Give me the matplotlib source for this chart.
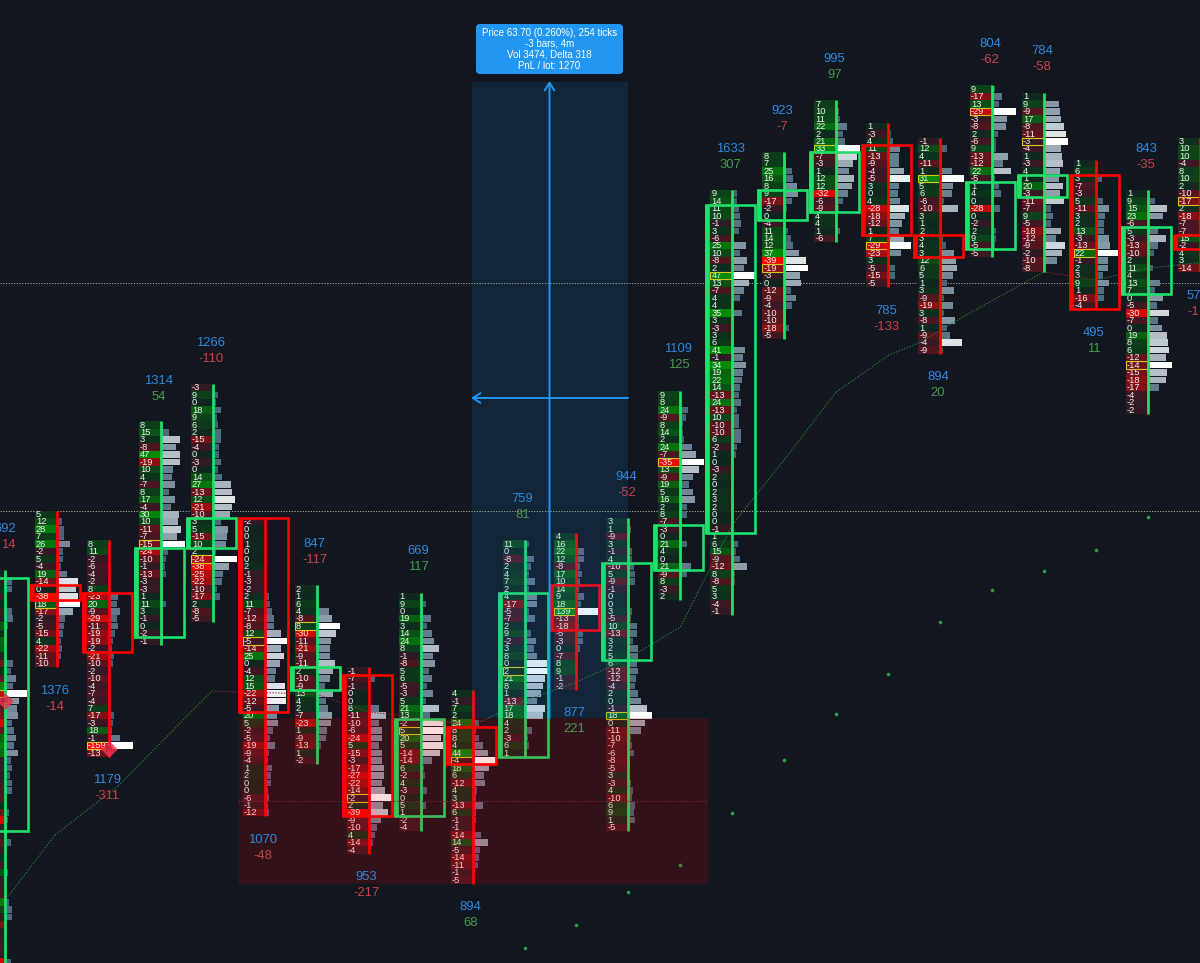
import matplotlib
matplotlib.use('Agg')
import matplotlib.pyplot as plt
from matplotlib.colors import to_rgb
from matplotlib.patches import Rectangle, FancyBboxPatch
from matplotlib.transforms import IdentityTransform

plt.rcParams['font.family'] = ['Liberation Sans', 'DejaVu Sans']

# one entry per bar: first price row, footprint deltas, volume profile
first_row = [8, 0, 4, -12, -17, 1, 10, 21, 11, 24, 4, 3, 1, -16, -43, -48, -55, -52, -50, -57, -56, -47, -43, -50]

deltas = [
    [0, -1, 2, -6, 1, -5, -3, 16, 3, 20, 18, -2, -14, 3, -12, 30, -28, -6, -12, -16, -30, -14, 20, 28, 22, -3, -5, -2, -6, -8, -9, 3, -14, -30, -5, -4, -10, -5, 3, -6, 14, -4, -5, -6, 26, 10, -3, -16, -3, -4, -6, -4, -30, -6],
    [5, 12, 28, 7, 26, -2, 5, -4, 19, -14, 0, -38, 18, -17, -2, -5, -15, 4, -22, -11, -10],
    [8, 11, -2, -6, -4, -2, 8, -23, 20, -9, -29, -11, -19, -19, -2, -21, -10, -2, -10, -4, -7, -4, 7, -17, -3, 18, -1, -159, -13],
    [8, 15, 3, -8, 47, -19, 10, 4, -7, 8, 17, -4, 30, 10, -11, -7, -15, -24, -10, -1, -13, -3, -3, 1, 11, 3, -1, 0, -2, -1],
    [-3, 9, 0, 18, 9, 6, 2, -15, -4, 0, -3, 0, 14, 27, -13, 12, -21, -10, 3, 5, -15, 10, 2, -24, -38, -25, -22, -10, -17, 2, -8, -5],
    [-2, 0, 0, 1, 0, 0, 2, -1, -3, -2, 2, 11, -7, -12, -8, 12, -5, -14, 25, 0, -4, 12, 15, -22, -12, -5, 20, 5, -2, -5, -19, -9, -4, 1, 2, 0, 0, -6, -1, -12],
    [2, 1, 6, 4, -8, 8, -30, -11, -21, -9, -11, 2, -10, -9, 13, 4, 2, -7, -23, 1, -9, -13, 1, -2],
    [-1, -7, -1, 0, 0, 8, -11, -10, -6, -24, 5, -15, -3, -17, -27, -22, -14, -2, 2, -39, -9, -10, 4, -14, -4],
    [1, 9, 0, 19, 3, 14, 24, 8, -1, -8, 5, 6, -5, -3, 5, 21, 13, -2, 5, 20, 5, -14, -14, 6, -2, 4, -3, 0, 5, 1, -2, -4],
    [4, -1, 7, 2, 24, 8, 8, 4, 44, -4, 18, 6, -12, 4, 3, -13, 6, -1, -1, -14, 14, -5, -14, -11, -1, -5],
    [11, 0, -8, 2, 4, 7, 2, 4, -17, -5, -7, 2, 9, -2, 3, 8, 0, 2, 21, 8, 1, -13, 17, 18, 4, 2, -3, 6, 1],
    [4, 16, 22, 12, -8, 17, 10, 14, 9, 18, 139, -13, -18, -5, -3, 0, -7, 8, 9, -1, -2],
    [3, 1, -9, 3, -1, 4, -10, 5, -9, -1, 0, 0, 3, -5, 10, -13, 3, 2, 5, 6, -12, -12, -4, 2, 0, -1, 18, 0, -11, -10, -7, -6, -8, -5, 3, -3, 4, -10, 6, 9, 1, -5],
    [9, 8, 24, -9, 8, 14, 2, 24, -7, -35, 13, -9, 19, 5, 16, 2, 8, -7, -3, 0, 21, 4, 0, 21, -9, 8, -3, 2],
    [9, 14, 11, 10, -1, 3, -6, 25, 10, -8, 2, 47, 13, -7, 4, 4, 35, 3, -3, 3, 6, 41, -1, 34, 19, 22, 14, -13, 24, -13, 10, -10, -10, 6, -2, 1, 0, -3, 2, 0, 2, 3, 2, 0, 0, -1, 1, 6, 15, -9, -12, 8, -8, 5, 3, -4, -1],
    [8, 7, 25, 16, 8, 9, -17, -2, 0, -4, 11, 14, 12, 37, -39, -19, -3, 0, -12, -9, -4, -10, -10, -18, -5],
    [7, 10, 11, 22, 2, 21, 33, -7, -3, 1, 12, 12, -32, -6, -9, 4, 4, 1, -6],
    [1, -3, 4, 11, -13, -9, -4, -5, 3, 0, 4, -28, -18, -12, 1, 7, -29, -23, 3, -5, -15, -5],
    [-1, 12, 4, -11, 1, 31, 5, 6, -6, -10, 3, 1, 2, 3, 4, 3, 12, 6, 5, 1, 3, -9, -19, 3, -8, 1, -9, -4, -9],
    [9, -17, 13, -29, -3, -8, 2, -6, 9, -13, -12, 22, -5, 1, 4, 0, -28, 0, -2, 2, 9, -5, -5],
    [1, 9, -9, 17, -8, -11, -3, -4, 1, -3, 4, 1, 20, -3, -11, -7, 9, -5, -18, -12, -9, -2, -10, -8],
    [1, 6, 3, -7, -3, 5, -11, 3, 2, 13, -3, -13, 22, -1, 2, 3, 9, 1, -16, -4],
    [1, 9, 15, 23, -6, 5, -3, -13, -10, 2, 11, 4, 13, 7, 0, -5, -30, -7, 0, 19, 8, 6, -12, -14, -15, -18, -17, -4, -2, -2],
    [3, 10, 10, -4, 8, 10, 2, -10, -17, 2, -18, -7, -7, 15, -2, 4, 3, -14],
]

volumes = [
    [0, 6, 6, 0, 1, 6, 7, 2, 0, 1, 0, 1, 7, 5, 10, 7, 21, 13, 11, 12, 6, 8, 10, 8, 12, 5, 6, 4, 6, 6, 0, 0, 3, 2, 1, 1, 5, 1, 0, 1, 2, 0, 0, 0, 3, 6, 6, 0, 0, 0, 1, 0, 5, 0],
    [0, 4, 6, 6, 12, 5, 5, 3, 9, 20, 18, 20, 22, 15, 7, 6, 5, 3, 4, 3, 1],
    [0, 0, 0, 0, 0, 0, 1, 8, 7, 10, 7, 8, 5, 3, 2, 4, 3, 1, 1, 1, 1, 1, 1, 4, 3, 2, 10, 23, 0],
    [0, 7, 18, 14, 18, 18, 11, 10, 13, 7, 13, 9, 17, 16, 19, 15, 23, 6, 4, 3, 4, 1, 1, 1, 4, 1, 1, 1, 1, 0],
    [0, 4, 2, 7, 3, 4, 7, 7, 5, 5, 7, 4, 8, 17, 18, 21, 18, 16, 7, 14, 13, 12, 2, 23, 15, 9, 8, 3, 6, 0, 0, 0],
    [0, 0, 0, 0, 0, 0, 0, 0, 0, 0, 3, 4, 6, 8, 8, 15, 21, 15, 18, 14, 10, 9, 19, 20, 20, 13, 11, 12, 7, 4, 9, 3, 2, 6, 5, 5, 2, 3, 2, 3],
    [0, 0, 1, 11, 14, 22, 18, 13, 12, 12, 17, 15, 12, 7, 15, 8, 10, 14, 13, 9, 8, 3, 0, 0],
    [0, 5, 1, 0, 0, 9, 16, 9, 12, 12, 9, 12, 12, 14, 14, 12, 15, 22, 13, 18, 11, 7, 5, 3, 0],
    [0, 4, 1, 9, 5, 10, 12, 17, 11, 13, 7, 10, 5, 11, 4, 17, 8, 21, 22, 19, 21, 18, 10, 2, 3, 1, 5, 1, 4, 1, 0, 0],
    [0, 0, 0, 0, 5, 2, 5, 9, 14, 22, 15, 10, 11, 3, 2, 9, 2, 2, 1, 7, 14, 6, 5, 4, 1, 0],
    [3, 1, 8, 5, 3, 9, 3, 11, 11, 3, 9, 1, 5, 10, 8, 11, 21, 22, 19, 17, 15, 11, 19, 17, 1, 6, 2, 3, 0],
    [0, 1, 7, 7, 3, 5, 3, 2, 7, 4, 21, 2, 2, 6, 6, 3, 1, 0, 0, 0, 0],
    [0, 2, 1, 0, 3, 3, 5, 6, 6, 1, 1, 1, 3, 2, 8, 8, 4, 9, 9, 8, 9, 7, 6, 9, 12, 18, 23, 16, 12, 2, 3, 5, 1, 1, 0, 2, 4, 3, 6, 5, 6, 1],
    [0, 0, 7, 5, 2, 2, 3, 11, 15, 23, 18, 12, 8, 12, 14, 6, 6, 1, 1, 0, 6, 1, 0, 10, 6, 0, 0, 0],
    [4, 4, 6, 7, 8, 6, 1, 13, 7, 14, 11, 22, 16, 11, 7, 0, 9, 1, 1, 1, 1, 12, 10, 13, 10, 9, 7, 6, 8, 4, 6, 6, 8, 8, 4, 3, 1, 1, 1, 0, 0, 1, 1, 0, 0, 0, 0, 5, 3, 7, 14, 2, 2, 0, 0, 0, 0],
    [0, 1, 7, 8, 12, 13, 7, 2, 1, 0, 3, 6, 8, 14, 21, 23, 15, 16, 6, 11, 7, 1, 1, 4, 0],
    [0, 2, 3, 10, 6, 8, 23, 20, 16, 12, 17, 15, 11, 6, 2, 0, 0, 3, 0],
    [0, 2, 4, 11, 10, 10, 15, 21, 10, 9, 11, 20, 16, 13, 10, 15, 22, 12, 1, 6, 6, 0],
    [0, 6, 1, 1, 11, 23, 12, 11, 3, 17, 1, 1, 1, 2, 5, 13, 15, 16, 12, 6, 13, 3, 12, 3, 14, 6, 9, 21, 2],
    [2, 9, 6, 23, 14, 13, 5, 3, 3, 15, 10, 18, 2, 6, 8, 0, 7, 1, 1, 3, 3, 2, 0],
    [0, 14, 15, 16, 19, 21, 23, 16, 17, 18, 15, 14, 18, 15, 19, 6, 8, 6, 16, 11, 20, 17, 12, 0],
    [0, 0, 5, 0, 0, 6, 12, 8, 7, 7, 12, 13, 21, 11, 11, 6, 12, 7, 7, 0],
    [0, 6, 18, 14, 0, 9, 17, 9, 5, 1, 4, 1, 11, 6, 14, 8, 20, 9, 13, 18, 19, 20, 17, 23, 18, 17, 10, 0, 0, 0],
    [4, 6, 8, 3, 5, 7, 2, 9, 22, 3, 12, 5, 4, 10, 4, 3, 2, 6],
]

poc_index = [16, 12, 27, 16, 23, 16, 5, 17, 18, 9, 17, 10, 26, 9, 11, 15, 6, 16, 5, 3, 6, 12, 23, 8]

# candle body as row indexes inside each bar, and its direction
body_top = [1, 10, 7, 17, 18, 0, 11, 1, 17, 5, 7, 7, 6, 18, 2, 5, 7, 3, 13, 13, 11, 2, 5, 13]
body_bottom = [34, 11, 14, 28, 21, 25, 13, 19, 29, 9, 28, 12, 18, 23, 45, 8, 14, 14, 15, 21, 13, 19, 13, 14]
bar_up = [True, False, False, True, True, False, True, False, True, False, True, False,
          True, True, True, True, True, False, False, True, True, False, True, False]

# the first and last bar are cut by the chart edge, only these digits show
label_volume = ['692', '1376', '1179', '1314', '1266', '1070', '847', '953', '669', '894', '759', '877',
                '944', '1109', '1633', '923', '995', '785', '894', '804', '784', '495', '843', '57']
label_delta = ['14', '-14', '-311', '54', '-110', '-48', '-117', '-217', '117', '68', '81', '221',
               '-52', '125', '307', '-7', '97', '-133', '20', '-62', '-58', '11', '-35', '-1']
label_row = [2.0, 23.7, 35.6, -17.9, -23.0, 43.7, 4.0, 48.6, 4.9, 52.6, -2.1, 26.6,
             -5.0, -22.2, -49.0, -54.1, -61.0, -27.3, -18.4, -63.0, -62.1, -24.3, -49.0, -29.3]

trend_bar = [-0.10, 0.13, 0.96, 2.18, 3.98, 6, 7, 8, 9, 10, 11, 12, 13, 14, 15, 16, 16.6, 17, 17.6, 18.5, 20, 21, 22, 23.1]
trend_row = [52.4, 50.6, 43.0, 36.4, 23.7, 24.1, 26.5, 27.3, 28.3, 25.0, 22.5, 19.3, 15.1, 1.4, -7.3, -16.4,
             -19.3, -21.3, -23.0, -26.7, -32.5, -31.4, -33.0, -33.8]

dot_bar = [10, 11, 12, 13, 14, 15, 16, 17, 18, 19, 20, 21, 22]
dot_row = [58.1, 55.0, 50.6, 47.0, 40.0, 33.0, 26.8, 21.4, 14.5, 10.2, 7.6, 4.8, 0.4]

diamond_bar = [0, 2]
diamond_row = [25.0, 31.4]
diamond_text = ['102', '104']

level_rows = [-31.0, -0.45]
level_colors = ['#bfa48c', '#b5ad8c']

tooltip_lines = ['Price 63.70 (0.260%), 254 ticks', '-3 bars, 4m', 'Vol 3474, Delta 318', 'PnL / lot: 1270']

BG = '#12161f'
UP = '#1ee06a'
DOWN = '#ff0000'
BAR_PX = 51.95
ROW_PX = 7.46


def mix(a, b, t):
    a, b = to_rgb(a), to_rgb(b)
    return tuple(x + (y - x) * t for x, y in zip(a, b))


def cell_color(v):
    if v >= 0:
        return mix('#10261f', '#008a08', min(v / 32, 1))
    return mix('#2c1a26', '#ff0000', min(-v / 36, 1) ** 1.2)


def vol_color(v, top):
    return mix('#3d5a70', '#ffffff', (v / top) ** 2)


def bx(px):
    return (px - 5) / BAR_PX


def ry(px):
    return (px - 514.3) / ROW_PX


fig = plt.figure(figsize=(12, 9.63), dpi=100, facecolor=BG)
ax = fig.add_axes([0, 0, 1, 1], facecolor=BG)
ax.set_xlim(bx(0), bx(1200))
ax.set_ylim(ry(963), ry(0))
ax.axis('off')

for r, c in zip(level_rows, level_colors):
    ax.axhline(r, color=c, lw=0.7, dashes=(1.2, 1.6), zorder=1)

for i, start in enumerate(first_row):
    vals, vols = deltas[i], volumes[i]
    assert len(vals) == len(vols), i
    col = UP if bar_up[i] else DOWN
    top = max(vols)
    for k, (v, vol) in enumerate(zip(vals, vols)):
        r = start + k
        ax.add_patch(Rectangle((i - 22 / BAR_PX, r - 0.5), 22 / BAR_PX, 1, fc=cell_color(v), ec='none', zorder=2))
        if vol > 0:
            ax.add_patch(Rectangle((i + 1 / BAR_PX, r - 0.44), vol / BAR_PX, 0.88, fc=vol_color(vol, top),
                                   ec='none', zorder=2))
        # bar 0 sits past the left edge, its numbers are not on the chart
        if i > 0:
            ax.text(i - 21 / BAR_PX, r + 0.03, str(v), color='#f2f2f2', fontsize=6.7, ha='left', va='center', zorder=3)
    p = start + poc_index[i]
    ax.add_patch(Rectangle((i - 22 / BAR_PX, p - 0.5), 22 / BAR_PX, 1, fc='none', ec='#d8c81e', lw=0.8, zorder=4))
    ax.plot([i, i], [start - 0.5, start + len(vals) - 0.5], color=col, lw=2, solid_capstyle='butt', zorder=5)
    # body box, the left edge is drawn heavier
    t, b = start + body_top[i] - 0.5, start + body_bottom[i] + 0.5
    ax.add_patch(Rectangle((i - 26 / BAR_PX, t), 49 / BAR_PX, b - t, fc='none', ec=col, lw=1.9, zorder=5))
    ax.plot([i - 25 / BAR_PX] * 2, [t, b], color=col, lw=3.4, solid_capstyle='butt', zorder=5)

# vwap style dotted line, green going up and red going down
for n in range(len(trend_bar) - 1):
    c = '#2f7d3f' if trend_row[n + 1] < trend_row[n] else '#8a2a2e'
    ax.plot(trend_bar[n:n + 2], trend_row[n:n + 2], color=c, lw=0.8, dashes=(1.2, 1.4), zorder=4)

ax.scatter(dot_bar, dot_row, s=7, color='#2f9a4f', linewidths=0, zorder=4)

ax.scatter(diamond_bar, diamond_row, s=70, marker='D', color='#f0304f', alpha=0.85, linewidths=0, zorder=6)
for x, y, s in zip(diamond_bar, diamond_row, diamond_text):
    ax.text(x, y, s, color='#8a1a30', fontsize=3.4, ha='center', va='center', zorder=7)

# price range tool
ax.add_patch(Rectangle((bx(472), ry(82)), bx(628) - bx(472), ry(718) - ry(82), fc='#2196f3', alpha=0.12, ec='none', zorder=6))
ax.add_patch(Rectangle((bx(238), ry(718)), bx(707) - bx(238), ry(883) - ry(718), fc='#ff0000', alpha=0.14,
                       ec='#5a1a1e', lw=0.8, zorder=6))
ax.plot([bx(238), bx(707)], [ry(801)] * 2, color='#7a2a30', lw=0.8, dashes=(1.2, 1.6), zorder=6)
ax.annotate('', xy=(bx(549.5), ry(81)), xytext=(bx(549.5), ry(718)), zorder=7,
            arrowprops=dict(arrowstyle='->,head_length=0.55,head_width=0.35', color='#2196f3', lw=1.4, shrinkA=0, shrinkB=0))
ax.annotate('', xy=(bx(471), ry(398)), xytext=(bx(628), ry(398)), zorder=7,
            arrowprops=dict(arrowstyle='->,head_length=0.55,head_width=0.35', color='#2196f3', lw=1.4, shrinkA=0, shrinkB=0))

tip = FancyBboxPatch((476, 963 - 74), 147, 50, boxstyle='round,pad=0,rounding_size=4', fc='#2196f3', ec='none',
                     transform=IdentityTransform(), zorder=8)
ax.add_patch(tip)
for n, line in enumerate(tooltip_lines):
    ax.text(bx(549.5), ry(32.5 + n * 11), line, color='white', fontsize=7.0, ha='center', va='center', zorder=9)

last = len(label_volume) - 1
for i, (vol, d, r) in enumerate(zip(label_volume, label_delta, label_row)):
    x, ha = i - 2 / BAR_PX, 'center'
    if i == 0:
        x, ha = bx(16), 'right'
    if i == last:
        x, ha = bx(1187), 'left'
    ax.text(x, r, vol, color='#2e8ae0', fontsize=9.4, ha=ha, va='center', zorder=9)
    ax.text(x, r + 2.15, d, color='#c8444a' if d.startswith('-') or i == 0 else '#4a9a4f', fontsize=9.4,
            ha=ha, va='center', zorder=9)

fig.savefig('out.png', dpi=100, facecolor=BG)
